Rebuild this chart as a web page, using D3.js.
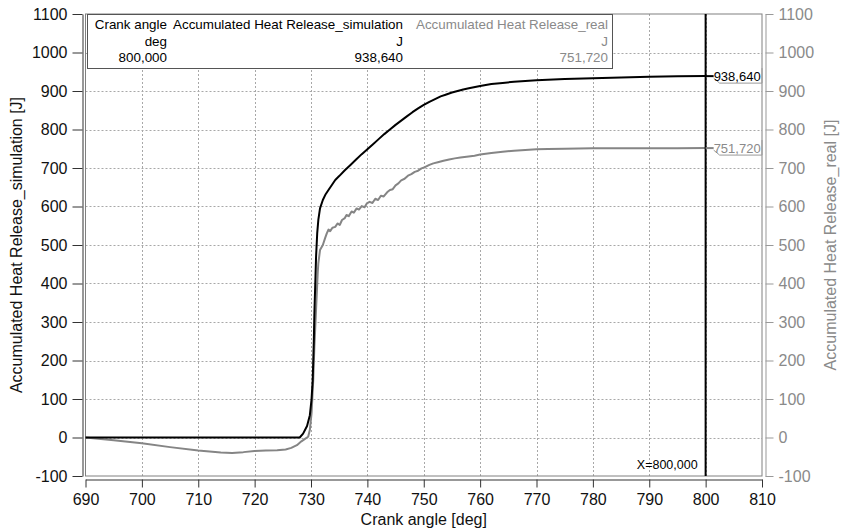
<!DOCTYPE html>
<html><head><meta charset="utf-8">
<script src="https://cdn.jsdelivr.net/npm/d3@7"></script>
<style>
html,body{margin:0;padding:0;background:#fff;}
svg{display:block;font-family:"Liberation Sans",Arial,sans-serif;}
</style></head>
<body><svg id="c" width="843" height="529"></svg>
<script>
// ---- data ----
const simAngle = [690,700,710,720,728,728.6,729.3,729.8,730.1,730.3,730.5,730.6,730.8,730.9,731.1,731.3,731.6,732.1,732.6,733.1,733.7,734.3,735,736,737,738,739,740,741,742,743,744,745,746,747,748,749,750,751,752,753,754,755,756,757,758,760,762,764,766,768,770,775,780,785,790,795,800];
const simValues = [0,0,0,0,0,10,30,58,100,149,250,323,420,470,530,565,595,617,632,643,656,669,679,694,708,722,736,749,762,775,788,800,812,823,834,845,855,864,872,879,886,891,896,900,904,907,913,918,921,924,926,928,931,933,935,937,938,938.64];
const realAngle = [690,695,700,705,710,714,716,718,720,722,724,725.5,726.5,727.5,728.3,729,729.5,729.8,730.1,730.4,730.6,730.8,731,731.2,731.3,731.6,732.1,732.5,732.8,733.1,733.4,733.8,734.3,734.7,735.1,735.5,736,736.3,736.7,737.2,737.6,738.1,738.5,739,739.5,739.9,740.4,740.9,741.4,741.9,742.4,742.9,743.5,744,744.5,745,745.5,746,746.6,747.2,747.8,748.4,749,749.6,750.2,751,751.7,752.5,753.5,754.5,755.5,756.5,757.6,759,760,762,764,766,768,770,772,775,780,785,790,795,800];
const realValues = [0,-7,-15,-25,-34,-39,-40,-38,-35,-34,-33,-31,-27,-20,-10,-3,2,20,63,150,236,300,366,430,452,487,500,518,530,540,536,545,547,556,552,565,570,578,575,587,584,595,592,601,598,608,612,609,620,617,628,626,637,643,645,655,660,668,672,680,684,690,693,699,702,708,712,715,719,722,725,727,729,732,735,739,742,745,747,748.6,749.5,750.3,751,751.3,751.5,751.6,751.72];
const xTicks = [690,700,710,720,730,740,750,760,770,780,790,800,810];
const yTicks = [-100,0,100,200,300,400,500,600,700,800,900,1000,1100];
const cursorX = 800;
const legendCols = [
  {name:"Crank angle", unit:"deg", value:"800,000"},
  {name:"Accumulated Heat Release_simulation", unit:"J", value:"938,640"},
  {name:"Accumulated Heat Release_real", unit:"J", value:"751,720"}
];
const simLabel = "938,640", realLabel = "751,720";

// ---- layout ----
const svg = d3.select("#c");
const L = 85.5, R = 762, T = 14, B = 476;
const x = d3.scaleLinear().domain([690,810]).range([L,R]);
const y = d3.scaleLinear().domain([-100,1100]).range([B,T]);
const BLACK = "#000", GRAY = "#858585";

// grid
const g = svg.append("g");
g.selectAll("line.h").data(yTicks.filter(d=>d>-100&&d<1100)).join("line")
  .attr("x1",L).attr("x2",R).attr("y1",d=>Math.round(y(d))+0.5).attr("y2",d=>Math.round(y(d))+0.5)
  .attr("stroke","#a8a8a8").attr("stroke-dasharray","2,2");
g.selectAll("line.v").data(xTicks.filter(d=>d>690&&d<810)).join("line")
  .attr("y1",T).attr("y2",B).attr("x1",d=>Math.round(x(d))+0.5).attr("x2",d=>Math.round(x(d))+0.5)
  .attr("stroke","#a8a8a8").attr("stroke-dasharray","2,2");

// frame
svg.append("rect").attr("x",L).attr("y",T).attr("width",R-L).attr("height",B-T)
  .attr("fill","none").attr("stroke","#808080");

// axes
const fmt = d=>String(d);
const ax = svg.append("g").attr("transform",`translate(0,479.5)`)
  .call(d3.axisBottom(x).tickValues(xTicks).tickFormat(fmt).tickSize(8).tickSizeOuter(0).tickPadding(6));
const ay = svg.append("g").attr("transform",`translate(82.5,0)`)
  .call(d3.axisLeft(y).tickValues(yTicks).tickFormat(fmt).tickSize(10).tickSizeOuter(0).tickPadding(5));
const ay2 = svg.append("g").attr("transform",`translate(765.5,0)`)
  .call(d3.axisRight(y).tickValues(yTicks).tickFormat(fmt).tickSize(8).tickSizeOuter(0).tickPadding(5));
[ax,ay].forEach(a=>{a.selectAll("path,line").attr("stroke","#333");a.selectAll("text").attr("fill","#111").style("font-size","16px").style("font-family","'Liberation Sans',Arial,sans-serif");});
ay2.selectAll("path,line").attr("stroke","#999");
ay2.selectAll("text").attr("fill","#8a8a8a").style("font-size","16px").style("font-family","'Liberation Sans',Arial,sans-serif");

// titles
svg.append("text").attr("x",(L+R)/2).attr("y",525).attr("text-anchor","middle")
  .style("font-size","16px").attr("fill","#111").text("Crank angle [deg]");
svg.append("text").attr("transform",`translate(22,${(T+B)/2}) rotate(-90)`).attr("text-anchor","middle")
  .style("font-size","16px").attr("fill","#111").text("Accumulated Heat Release_simulation [J]");
svg.append("text").attr("transform",`translate(836,${(T+B)/2}) rotate(-90)`).attr("text-anchor","middle")
  .style("font-size","16px").attr("fill","#8a8a8a").text("Accumulated Heat Release_real [J]");

// lines
const line = d3.line().x(d=>x(d[0])).y(d=>y(d[1]));
svg.append("path").datum(realAngle.map((a,i)=>[a,realValues[i]])).attr("d",line)
  .attr("fill","none").attr("stroke",GRAY).attr("stroke-width",2).attr("stroke-linejoin","round");
svg.append("path").datum(simAngle.map((a,i)=>[a,simValues[i]])).attr("d",line)
  .attr("fill","none").attr("stroke",BLACK).attr("stroke-width",2).attr("stroke-linejoin","round");

// cursor
svg.append("line").attr("x1",x(cursorX)).attr("x2",x(cursorX)).attr("y1",T).attr("y2",B)
  .attr("stroke","#000").attr("stroke-width",2);
svg.append("text").attr("x",x(cursorX)-8).attr("y",469).attr("text-anchor","end")
  .style("font-size","12.5px").attr("fill","#000").text("X=800,000");

// value tags
function tag(v,label,col,lineCol){
  const yy = y(v), x0 = x(cursorX);
  svg.append("line").attr("x1",x0).attr("x2",x0+8).attr("y1",yy).attr("y2",yy).attr("stroke",lineCol).attr("stroke-width",2);
  svg.append("path").attr("d",`M${x0+8},${yy+2}L${x0+14},${yy+7}L${R},${yy+7}L${R},${yy-8}`)
    .attr("fill","none").attr("stroke","#9a9a9a");
  svg.append("text").attr("x",x0+8).attr("y",yy+4.5).style("font-size","13px").attr("fill",col).text(label);
}
tag(simValues[simValues.length-1],simLabel,"#000","#000");
tag(realValues[realValues.length-1],realLabel,"#8a8a8a",GRAY);

// legend box
const lg = svg.append("g");
lg.append("rect").attr("x",87.5).attr("y",14.5).attr("width",525).attr("height",54)
  .attr("fill","#fff").attr("stroke","#555");
const colRight = [167,403,608];
const colColor = ["#000","#000","#8a8a8a"];
legendCols.forEach((c,i)=>{
  [c.name,c.unit,c.value].forEach((t,j)=>{
    lg.append("text").attr("x",colRight[i]).attr("y",29+j*16.5).attr("text-anchor","end")
      .style("font-size","13.4px").attr("fill",colColor[i]).text(t);
  });
});
</script></body></html>
